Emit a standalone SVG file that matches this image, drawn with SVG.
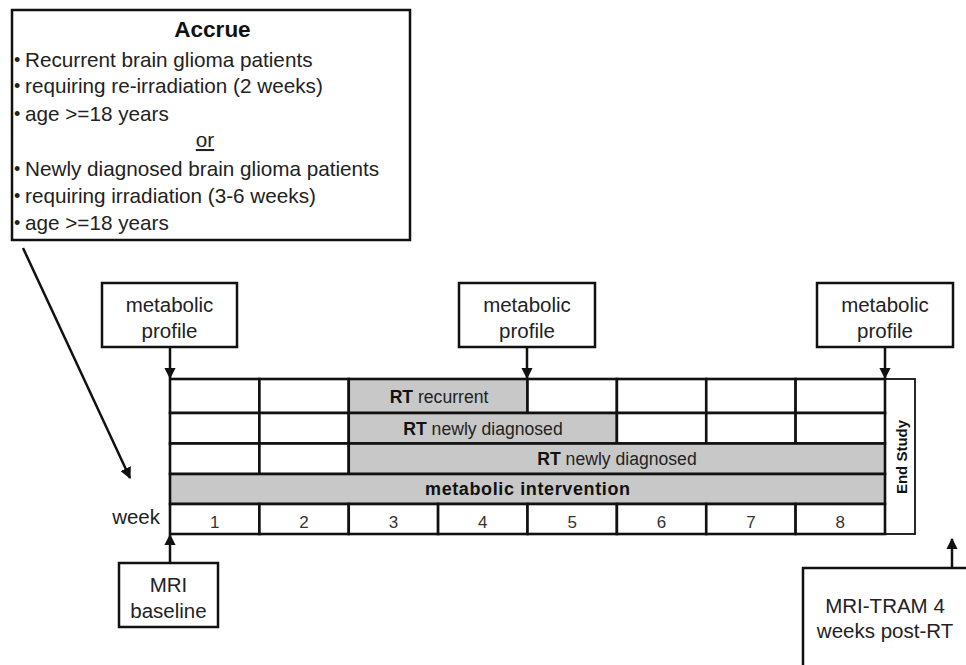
<svg xmlns="http://www.w3.org/2000/svg" width="966" height="665" viewBox="0 0 966 665">
<style>
text{font-family:"Liberation Sans",Arial,sans-serif;fill:#222}
.box{fill:#fff;stroke:#111;stroke-width:2.5}
.t20{font-size:20.5px}
.t21{font-size:20.7px}
.ctr{text-anchor:middle}
.b{font-weight:bold;fill:#111}
.cell{fill:#fff;stroke:#111;stroke-width:2.6}
.gray{fill:#c8c8c8;stroke:#111;stroke-width:2.6}
.g17{font-size:17.6px}
.wk{font-size:17px;fill:#333;text-anchor:middle}
.bul{font-size:18px}
.arrow{stroke:#111;stroke-width:2.5;fill:none;marker-end:url(#ah)}
</style>
<defs>
<marker id="ah" viewBox="0 0 10 10" refX="9" refY="5" markerWidth="4.6" markerHeight="4.6" orient="auto" markerUnits="strokeWidth">
<path d="M0,0 L10,5 L0,10 z" fill="#111"/>
</marker>
</defs>
<rect width="966" height="665" fill="#fff"/>

<g id="accrue">
<rect class="box" x="12" y="10" width="398" height="230"/>
<text class="b ctr" x="212.5" y="37" font-size="22.5">Accrue</text>
<g class="t21">
<text class="bul" x="14" y="66">•</text><text x="25" y="67">Recurrent brain glioma patients</text>
<text class="bul" x="14" y="92">•</text><text x="25" y="93">requiring re-irradiation (2 weeks)</text>
<text class="bul" x="14" y="119.5">•</text><text x="25" y="120.5">age &gt;=18 years</text>
<text class="ctr" x="205" y="147" text-decoration="underline">or</text>
<text class="bul" x="14" y="175">•</text><text x="25" y="176">Newly diagnosed brain glioma patients</text>
<text class="bul" x="14" y="202">•</text><text x="25" y="203">requiring irradiation (3-6 weeks)</text>
<text class="bul" x="14" y="229">•</text><text x="25" y="230">age &gt;=18 years</text>
</g>
</g>

<g id="profile1">
<rect class="box" x="102" y="283" width="135" height="64"/>
<text class="t20 ctr" x="169.5" y="312">metabolic</text>
<text class="t20 ctr" x="169.5" y="338">profile</text>
</g>
<g id="profile2">
<rect class="box" x="459" y="283" width="136" height="64"/>
<text class="t20 ctr" x="527" y="312">metabolic</text>
<text class="t20 ctr" x="527" y="338">profile</text>
</g>
<g id="profile3">
<rect class="box" x="817" y="283" width="136" height="64"/>
<text class="t20 ctr" x="885" y="312">metabolic</text>
<text class="t20 ctr" x="885" y="338">profile</text>
</g>

<g id="endstudy">
<rect x="885" y="379" width="30" height="155" fill="#fff" stroke="#111" stroke-width="1.8"/>
<text class="b" font-size="15" text-anchor="middle" transform="translate(906.5,457) rotate(-90)">End Study</text>
</g>

<g id="timeline">
<!-- row 1 -->
<rect class="cell" x="170" y="379" width="89.4" height="34"/>
<rect class="cell" x="259.4" y="379" width="89.35" height="34"/>
<rect class="gray" x="348.75" y="379" width="178.75" height="34"/>
<rect class="cell" x="527.5" y="379" width="89.4" height="34"/>
<rect class="cell" x="616.9" y="379" width="89.35" height="34"/>
<rect class="cell" x="706.25" y="379" width="89.35" height="34"/>
<rect class="cell" x="795.6" y="379" width="89.4" height="34"/>
<!-- row 2 -->
<rect class="cell" x="170" y="413" width="89.4" height="30.5"/>
<rect class="cell" x="259.4" y="413" width="89.35" height="30.5"/>
<rect class="gray" x="348.75" y="413" width="268.15" height="30.5"/>
<rect class="cell" x="616.9" y="413" width="89.35" height="30.5"/>
<rect class="cell" x="706.25" y="413" width="89.35" height="30.5"/>
<rect class="cell" x="795.6" y="413" width="89.4" height="30.5"/>
<!-- row 3 -->
<rect class="cell" x="170" y="443.5" width="89.4" height="30.5"/>
<rect class="cell" x="259.4" y="443.5" width="89.35" height="30.5"/>
<rect class="gray" x="348.75" y="443.5" width="536.25" height="30.5"/>
<!-- row 4 -->
<rect class="gray" x="170" y="474" width="715" height="30"/>
<!-- week row -->
<rect class="cell" x="170" y="504" width="89.4" height="30"/>
<rect class="cell" x="259.4" y="504" width="89.35" height="30"/>
<rect class="cell" x="348.75" y="504" width="89.35" height="30"/>
<rect class="cell" x="438.1" y="504" width="89.4" height="30"/>
<rect class="cell" x="527.5" y="504" width="89.4" height="30"/>
<rect class="cell" x="616.9" y="504" width="89.35" height="30"/>
<rect class="cell" x="706.25" y="504" width="89.35" height="30"/>
<rect class="cell" x="795.6" y="504" width="89.4" height="30"/>

<text class="g17 ctr" x="439" y="403"><tspan class="b">RT</tspan> recurrent</text>
<text class="g17 ctr" x="483" y="435"><tspan class="b">RT</tspan> newly diagnosed</text>
<text class="g17 ctr" x="617" y="465"><tspan class="b">RT</tspan> newly diagnosed</text>
<text class="ctr b" font-size="18" x="527.5" y="495" textLength="205" lengthAdjust="spacing">metabolic intervention</text>

<text class="t20" x="160" y="524" text-anchor="end">week</text>
<text class="wk" x="214.7" y="528">1</text>
<text class="wk" x="304" y="528">2</text>
<text class="wk" x="393.4" y="528">3</text>
<text class="wk" x="482.8" y="528">4</text>
<text class="wk" x="572.2" y="528">5</text>
<text class="wk" x="661.6" y="528">6</text>
<text class="wk" x="751" y="528">7</text>
<text class="wk" x="840.3" y="528">8</text>
</g>

<g id="mri-baseline">
<rect class="box" x="119" y="563" width="99" height="64"/>
<text class="t20 ctr" x="168.5" y="592">MRI</text>
<text class="t20 ctr" x="168.5" y="618">baseline</text>
</g>

<g id="mri-tram">
<rect class="box" x="803" y="568" width="170" height="110"/>
<text class="t20 ctr" x="885" y="613">MRI-TRAM 4</text>
<text class="t20 ctr" x="885" y="638">weeks post-RT</text>
</g>

<g id="connectors">
<line class="arrow" x1="23" y1="248" x2="130" y2="478"/>
<line class="arrow" x1="170" y1="347" x2="170" y2="378"/>
<line class="arrow" x1="527" y1="347" x2="527" y2="378"/>
<line class="arrow" x1="885" y1="347" x2="885" y2="378"/>
<line class="arrow" x1="170" y1="563" x2="170" y2="535"/>
<line class="arrow" x1="952" y1="568" x2="952" y2="539"/>
</g>
</svg>
